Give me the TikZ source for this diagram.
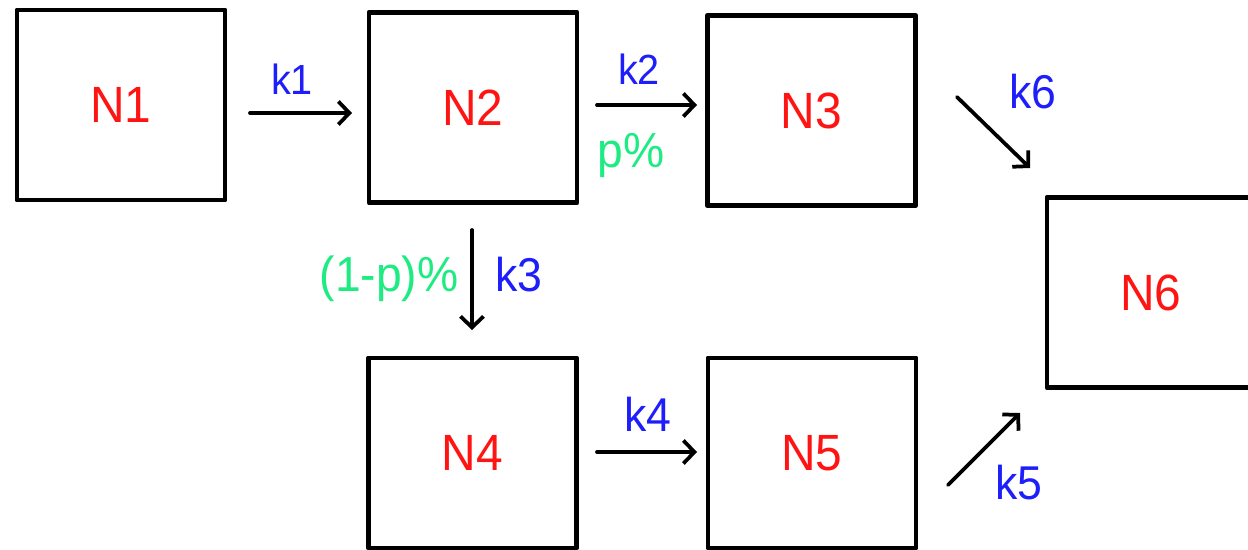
\documentclass[tikz,border=0pt]{standalone}
\usepackage{fontspec}
\usepackage{graphicx}
\setmainfont{Liberation Sans}
\usetikzlibrary{arrows.meta}
\definecolor{nred}{RGB}{255,20,20}
\definecolor{kblue}{RGB}{30,30,250}
\definecolor{pgreen}{RGB}{30,235,130}
\newcommand{\squeeze}[1]{\scalebox{0.94}[1]{#1}}
\tikzset{
	comp/.style={draw, line width=0.09cm, minimum width=4.17cm, minimum height=3.81cm, inner sep=0pt, text=nred, font=\fontsize{29}{31}\selectfont},
	rate/.style={text=kblue, anchor=base, inner sep=0pt, font=\fontsize{27}{29}\selectfont},
	frac/.style={text=pgreen, anchor=base, inner sep=0pt, font=\fontsize{28}{30}\selectfont},
	flow/.style={line width=0.075cm, -{Straight Barb[length=0.22cm,width=0.46cm]}}
}
\begin{document}
\begin{tikzpicture}[x=0.02cm, y=-0.02cm, line join=round, line cap=round]
	\useasboundingbox (0,0) rectangle (1248,550);
	% compartments
	\node[comp] (N1) at (121,105) {\squeeze{N1}};
	\node[comp] (N2) at (473,107.5) {\squeeze{N2}};
	\node[comp] (N3) at (811.5,110.5) {\squeeze{N3}};
	\node[comp] (N4) at (472.5,453) {\squeeze{N4}};
	\node[comp] (N5) at (812,453) {\squeeze{N5}};
	\node[comp] (N6) at (1151,292.5) {\squeeze{N6}};
	% arrow ends
	\coordinate (k1s) at (250,113); \coordinate (k1e) at (352,113);
	\coordinate (k2s) at (597,105); \coordinate (k2e) at (697,105);
	\coordinate (k3s) at (472,230); \coordinate (k3e) at (472,330);
	\coordinate (k4s) at (597,452); \coordinate (k4e) at (697,452);
	\coordinate (k6s) at (957,97);  \coordinate (k6e) at (1030,168);
	\coordinate (k5s) at (948,485); \coordinate (k5e) at (1020,413);
	\foreach \k in {k1,k2,k3,k4,k5,k6}
	\draw[flow] (\k s) -- (\k e);
	% rates
	\node[rate, font=\fontsize{24}{26}\selectfont] (r1) at (292,95) {\squeeze{k1}};
	\node[rate, font=\fontsize{24}{26}\selectfont] (r2) at (639,85) {\squeeze{k2}};
	\node[rate] (r3) at (519,292) {\squeeze{k3}};
	\node[rate] (r4) at (648,432) {\squeeze{k4}};
	\node[rate] (r5) at (1019,500) {\squeeze{k5}};
	\node[rate] (r6) at (1033,109) {\squeeze{k6}};
	% fractions
	\node[frac] (f1) at (631,168) {\squeeze{p\%}};
	\node[frac] (f2) at (389,292) {\squeeze{(1-p)\%}};
\end{tikzpicture}
\end{document}
